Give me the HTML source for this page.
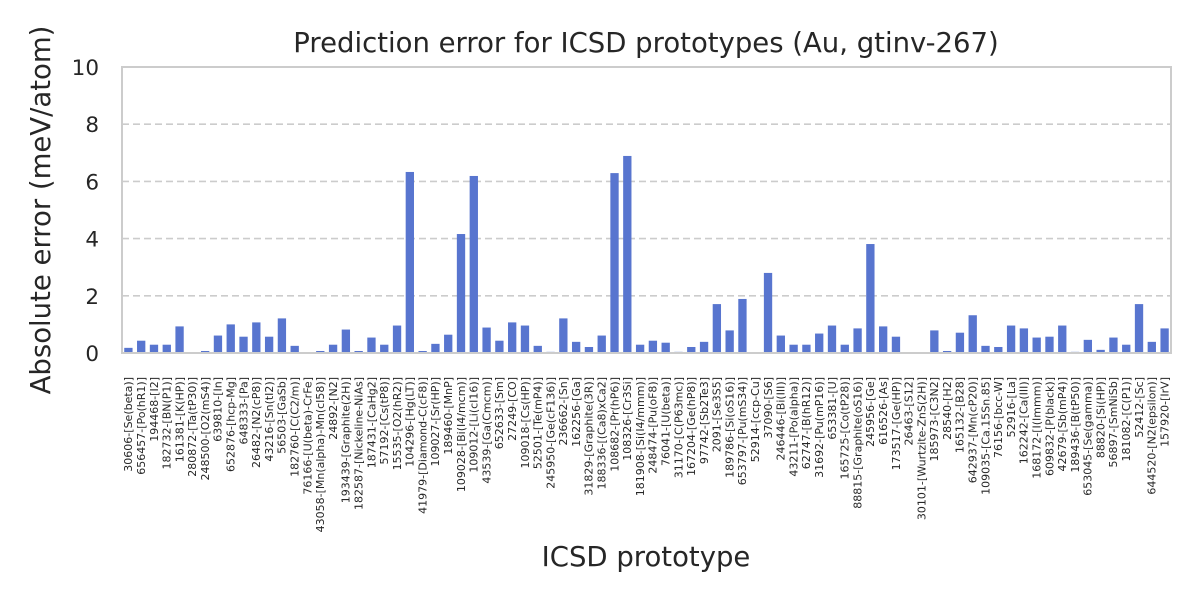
<!DOCTYPE html>
<html><head><meta charset="utf-8"><style>
body{margin:0;background:#fff;}
svg{font-family:"DejaVu Sans","Liberation Sans",sans-serif;}
</style></head><body>
<svg id="chart" width="1200" height="600">
<rect x="0" y="0" width="1200" height="600" fill="#fff"/>
<text x="646" y="52" font-size="27.5" fill="#262626" text-anchor="middle">Prediction error for ICSD prototypes (Au, gtinv-267)</text>
<text transform="translate(50,210) rotate(-90)" font-size="27.5" fill="#262626" text-anchor="middle">Absolute error (meV/atom)</text>
<text x="646" y="566" font-size="27.5" fill="#262626" text-anchor="middle">ICSD prototype</text>
<g id="grid"></g><g id="bars"></g><g id="yticks"></g><g id="xticks"></g>
<rect x="122" y="67" width="1049" height="286" fill="none" stroke="#cccccc" stroke-width="2"/>
</svg>
<script>
const categories=["30606-[Se(beta)]","656457-[Po(hR1)]","194468-[I2]","182732-[BN(P1)]","161381-[K(HP)]","280872-[Ta(tP30)]","248500-[O2(mS4)]","639810-[In]","652876-[hcp-Mg]","648333-[Pa]","26482-[N2(cP8)]","43216-[Sn(tI2)]","56503-[GaSb]","182760-[C(C2/m)]","76166-[U(beta)-CrFe]","43058-[Mn(alpha)-Mn(cI58)]","24892-[N2]","193439-[Graphite(2H)]","182587-[Nickeline-NiAs]","187431-[CaHg2]","57192-[Cs(tP8)]","15535-[O2(hR2)]","104296-[Hg(LT)]","41979-[Diamond-C(cF8)]","109027-[Sr(HP)]","189460-[MnP]","109028-[Bi(I4/mcm)]","109012-[Li(cI16)]","43539-[Ga(Cmcm)]","652633-[Sm]","27249-[CO]","109018-[Cs(HP)]","52501-[Te(mP4)]","245950-[Ge(cF136)]","236662-[Sn]","162256-[Ga]","31829-[Graphite(3R)]","188336-[(Ca8)xCa2]","108682-[Pr(hP6)]","108326-[Cr3Si]","181908-[Si(I4/mmm)]","248474-[Pu(oF8)]","76041-[U(beta)]","31170-[C(P63mc)]","167204-[Ge(hP8)]","97742-[Sb2Te3]","2091-[Se3S5]","189786-[Si(oS16)]","653797-[Pu(mS34)]","52914-[ccp-Cu]","37090-[S6]","246446-[Bi(III)]","43211-[Po(alpha)]","62747-[B(hR12)]","31692-[Pu(mP16)]","653381-[U]","165725-[Co(tP28)]","88815-[Graphite(oS16)]","245956-[Ge]","616526-[As]","173517-[Ge(HP)]","26463-[S12]","30101-[Wurtzite-ZnS(2H)]","185973-[C3N2]","28540-[H2]","165132-[B28]","642937-[Mn(cP20)]","109035-[Ca.15Sn.85]","76156-[bcc-W]","52916-[La]","162242-[Ca(III)]","168172-[I(Immm)]","609832-[P(black)]","42679-[Sb(mP4)]","189436-[B(tP50)]","653045-[Se(gamma)]","88820-[Si(HP)]","56897-[SmNiSb]","181082-[C(P1)]","52412-[Sc]","644520-[N2(epsilon)]","157920-[IrV]"];
const values=[0.18,0.43,0.29,0.29,0.93,0,0.07,0.61,1.0,0.57,1.07,0.57,1.21,0.25,0,0.07,0.29,0.82,0.07,0.54,0.29,0.96,6.33,0.07,0.32,0.64,4.16,6.19,0.89,0.43,1.07,0.96,0.25,0.04,1.21,0.39,0.21,0.61,6.29,6.89,0.29,0.43,0.36,0.04,0.21,0.39,1.71,0.79,1.89,0,2.8,0.61,0.29,0.29,0.68,0.96,0.29,0.86,3.81,0.93,0.57,0,0,0.79,0.07,0.71,1.32,0.25,0.21,0.96,0.86,0.54,0.57,0.96,0.04,0.46,0.11,0.54,0.29,1.71,0.39,0.86];
const yTicks=[0,2,4,6,8,10];
const NS="http://www.w3.org/2000/svg";
const x0=122,x1=1171,y0=353,y1=67,ymax=10;
const bw=(x1-x0)/categories.length;
function xs(i){return x0+bw*(i+0.5);}
function ys(v){return y0-(v/ymax)*(y0-y1);}
function mk(tag,attrs,parent){const e=document.createElementNS(NS,tag);for(const k in attrs)e.setAttribute(k,attrs[k]);document.getElementById(parent).appendChild(e);return e;}
yTicks.forEach(t=>{
  if(t>0&&t<10){const l=mk('line',{x1:x0,x2:x1,y1:ys(t),y2:ys(t),stroke:'#cccccc','stroke-width':1.6,'stroke-dasharray':'7,4'},'grid');
  
  }
  const tx=mk('text',{x:x0-23,y:ys(t)+8,'font-size':21.5,fill:'#262626','text-anchor':'end'},'yticks');
  tx.textContent=t;
  
  
});
categories.forEach((c,i)=>{
  const w=bw*0.65;
  const r=mk('rect',{x:xs(i)-w/2,y:ys(values[i]),width:w,height:y0-ys(values[i]),fill:'#5875cf'},'bars');
  
  
  const t=mk('text',{transform:'translate('+(xs(i)+3.8)+',377) rotate(-90)','font-size':11,fill:'#262626','text-anchor':'end'},'xticks');
  t.textContent=c;
  
  
});
</script>
</body></html>
